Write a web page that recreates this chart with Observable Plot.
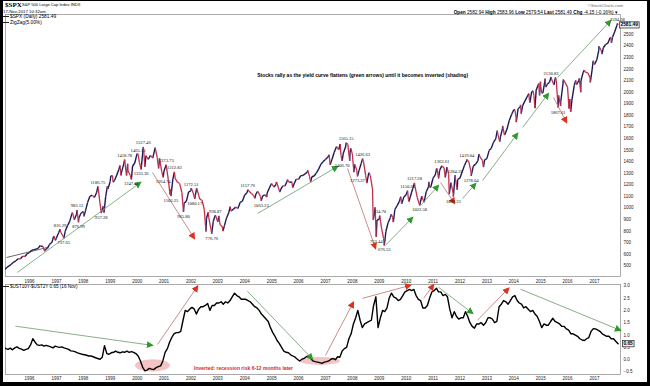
<!DOCTYPE html>
<html><head><meta charset="utf-8">
<script src="https://cdn.jsdelivr.net/npm/d3@7"></script>
<script src="https://cdn.jsdelivr.net/npm/@observablehq/plot@0.6"></script>
<style>
html,body{margin:0;padding:0;background:#000;width:650px;height:386px;overflow:hidden;}
#frame{position:absolute;left:3px;top:1px;width:644px;height:381px;background:#fff;overflow:hidden;font-family:"Liberation Sans",Arial,sans-serif;color:#000;}
.t{position:absolute;white-space:nowrap;line-height:1;z-index:5;}
#top{position:absolute;left:0;top:13px;}
#bot{position:absolute;left:0;top:283px;}
.lg{display:inline-block;width:6px;height:1px;background:#222;vertical-align:middle;margin-right:1px;}
</style></head>
<body>
<div id="frame">
  <div id="top"></div>
  <div id="bot"></div>
  <div class="t" style="left:2px;top:0px;font:bold 7px 'Liberation Serif',serif;">$SPX</div>
  <div class="t" style="left:19px;top:1.5px;font-size:4.1px;">S&amp;P 500 Large Cap Index INDX</div>
  <div class="t" style="left:0px;top:8.5px;font-size:4.3px;">17-Nov-2017 10:32am</div>
  <div class="t" style="right:24px;top:2.5px;font-size:4.2px;color:#666;">&#169;StockCharts.com</div>
  <div class="t" style="right:29px;top:9.5px;font-size:4.7px;"><b>Open</b> 2582.94 <b>High</b> 2583.96 <b>Low</b> 2579.54 <b>Last</b> 2581.49 <b>Chg</b> -4.15 (-0.16%) &#9662;</div>
  <div class="t" style="left:0px;top:14px;font-size:4.8px;"><span class="lg"></span>$SPX (Daily) 2581.49</div>
  <div class="t" style="left:0px;top:19.5px;font-size:4.8px;"><span class="lg"></span>ZigZag(5.00%)</div>
  <div class="t" style="left:0px;top:283.5px;font-size:4.6px;"><span class="lg"></span>$UST10Y-$UST2Y 0.65 (16 Nov)</div>
</div>
<script>
// ---------- data ----------
const years = [1996,1997,1998,1999,2000,2001,2002,2003,2004,2005,2006,2007,2008,2009,2010,2011,2012,2013,2014,2015,2016,2017];
// (the 2600 tick sits under the last-price box in the reference, so it is not shown)
const priceTicks = [500,600,700,800,900,1000,1100,1200,1300,1400,1500,1600,1700,1800,1900,2000,2100,2200,2300,2400,2500];
const spreadTicks = [-0.5,0,0.5,1,1.5,2,2.5,3];

// S&P 500 month-end closes, Jan 1995 .. Oct 2017
const spxMonthClose = [
 470.42,487.39,500.71,514.71,533.40,544.75,562.06,561.88,584.41,581.50,605.37,615.93,
 636.02,640.43,645.50,654.17,669.12,670.63,639.95,651.99,687.31,705.27,757.02,740.74,
 786.16,790.82,757.12,801.34,848.28,885.14,954.29,899.47,947.28,914.62,955.40,970.43,
 980.28,1049.34,1101.75,1111.75,1090.82,1133.84,1120.67,957.28,1017.01,1098.67,1163.63,1229.23,
 1279.64,1238.33,1286.37,1335.18,1301.84,1372.71,1328.72,1320.41,1282.71,1362.93,1388.91,1469.25,
 1394.46,1366.42,1498.58,1452.43,1420.60,1454.60,1430.83,1517.68,1436.51,1429.40,1314.95,1320.28,
 1366.01,1239.94,1160.33,1249.46,1255.82,1224.42,1211.23,1133.58,1040.94,1059.78,1139.45,1148.08,
 1130.20,1106.73,1147.39,1076.92,1067.14,989.82,911.62,916.07,815.28,885.76,936.31,879.82,
 855.70,841.15,848.18,916.92,963.59,974.50,990.31,1008.01,995.97,1050.71,1058.20,1111.92,
 1131.13,1144.94,1126.21,1107.30,1120.68,1140.84,1101.72,1104.24,1114.58,1130.20,1173.82,1211.92,
 1181.27,1203.60,1180.59,1156.85,1191.50,1191.33,1234.18,1220.33,1228.81,1207.01,1249.48,1248.29,
 1280.08,1280.66,1294.83,1310.61,1270.09,1270.20,1276.66,1303.82,1335.85,1377.94,1400.63,1418.30,
 1438.24,1406.82,1420.86,1482.37,1530.62,1503.35,1455.27,1473.99,1526.75,1549.38,1481.14,1468.36,
 1378.55,1330.63,1322.70,1385.59,1400.38,1280.00,1267.38,1282.83,1166.36,968.75,896.24,903.25,
 825.88,735.09,797.87,872.81,919.14,919.32,987.48,1020.62,1057.08,1036.19,1095.63,1115.10,
 1073.87,1104.49,1169.43,1186.69,1089.41,1030.71,1101.60,1049.33,1141.20,1183.26,1180.55,1257.64,
 1286.12,1327.22,1325.83,1363.61,1345.20,1320.64,1292.28,1218.89,1131.42,1253.30,1246.96,1257.60,
 1312.41,1365.68,1408.47,1397.91,1310.33,1362.16,1379.32,1406.58,1440.67,1412.16,1416.18,1426.19,
 1498.11,1514.68,1569.19,1597.57,1630.74,1606.28,1685.73,1632.97,1681.55,1756.54,1805.81,1848.36,
 1782.59,1859.45,1872.34,1883.95,1923.57,1960.23,1930.67,2003.37,1972.29,2018.05,2067.56,2058.90,
 1994.99,2104.50,2067.89,2085.51,2107.39,2063.11,2103.84,1972.18,1920.03,2079.36,2080.41,2043.94,
 1940.24,1932.23,2059.74,2065.30,2096.95,2098.86,2173.60,2170.95,2168.27,2126.15,2198.81,2238.83,
 2278.87,2363.64,2362.72,2384.20,2411.80,2423.41,2470.30,2471.65,2519.36,2575.26
];
const spxLast = ["2017-11-17", 2581.49];

// intra-month swing points (unlabeled)
const spxSwings = [
 ["1996-05-24",678.51],["1996-07-24",626.65],["1996-11-25",757.03],["1996-12-16",720.98],
 ["1997-08-06",960.32],["1998-01-09",927.69],["1998-10-08",959.44],["1998-11-23",1188.21],
 ["1999-01-08",1275.09],["1999-02-09",1223.55],["1999-05-13",1367.56],["1999-05-27",1281.41],
 ["1999-08-10",1281.43],["1999-08-25",1381.79],["2000-04-14",1356.56],["2000-09-01",1520.77],
 ["2000-10-18",1342.13],["2001-03-22",1117.58],["2002-03-19",1170.29],["2002-07-23",797.70],
 ["2002-08-22",962.70],["2003-01-14",931.66],["2003-03-11",800.73],["2003-06-17",1011.66],
 ["2004-05-17",1084.10],["2004-06-23",1144.06],["2004-10-25",1094.81],["2005-03-07",1225.31],
 ["2005-04-20",1137.50],["2005-08-02",1245.04],["2005-10-13",1176.84],["2006-05-05",1325.76],
 ["2006-06-13",1223.69],["2007-02-20",1459.68],["2007-03-05",1374.12],["2007-07-19",1553.08],
 ["2007-11-26",1407.22],["2007-12-10",1515.96],["2008-01-22",1310.50],["2008-07-15",1214.91],
 ["2008-08-11",1305.32],["2008-10-10",899.22],["2008-11-04",1005.75],["2009-06-12",946.21],
 ["2009-07-10",879.13],["2009-10-19",1097.91],["2010-02-08",1056.74],["2010-11-05",1225.85],
 ["2010-11-16",1178.34],["2011-02-18",1343.01],["2011-03-16",1256.88],["2011-06-15",1265.42],
 ["2011-07-07",1353.22],["2011-08-08",1119.46],["2011-11-25",1158.67],["2012-09-14",1465.77],
 ["2012-11-15",1353.33],["2013-05-21",1669.16],["2013-06-24",1573.09],["2013-08-02",1709.67],
 ["2013-08-27",1630.48],["2014-01-15",1848.38],["2014-02-03",1741.89],["2014-04-02",1890.90],
 ["2014-04-11",1815.69],["2014-07-24",1987.98],["2014-08-07",1909.57],["2014-09-18",2011.36],
 ["2014-10-15",1862.49],["2014-12-05",2075.37],["2014-12-16",1972.74],["2014-12-29",2090.57],
 ["2015-01-15",1992.67],["2015-03-02",2117.39],["2015-03-10",2044.16],["2015-07-20",2128.28],
 ["2015-09-28",1881.77],["2015-11-03",2109.79],["2016-01-20",1859.33],["2016-02-11",1829.08],
 ["2016-04-20",2102.40],["2016-06-08",2119.12],["2016-06-27",2000.54],["2016-08-15",2190.15],
 ["2016-11-04",2085.18],["2016-12-13",2271.72],["2017-03-01",2395.96],["2017-04-13",2328.95],
 ["2017-08-08",2474.92],["2017-08-18",2425.55]
];

// ZigZag pivots with labels: date, value, a = above / b = below
const zigzagPivots = [
 ["1997-02-18",816.29,"a"],["1997-04-11",737.65,"b"],["1997-10-07",983.12,"a"],["1997-10-27",876.99,"b"],
 ["1998-07-17",1186.75,"a"],["1998-08-31",957.28,"b"],["1999-07-16",1418.78,"a"],["1999-10-15",1247.41,"b"],
 ["2000-01-14",1465.15,"a"],["2000-02-25",1333.36,"b"],["2000-03-24",1527.46,"a"],["2000-12-20",1264.74,"b"],
 ["2001-01-30",1373.73,"a"],["2001-04-04",1103.25,"b"],["2001-05-21",1312.83,"a"],["2001-09-21",965.80,"b"],
 ["2002-01-04",1172.51,"a"],["2002-02-21",1080.17,"b"],["2002-10-09",776.76,"b"],["2002-11-27",938.87,"a"],
 ["2004-02-11",1157.76,"a"],["2004-08-12",1063.23,"b"],["2007-08-15",1406.70,"b"],["2007-10-09",1565.15,"a"],
 ["2008-03-10",1273.37,"b"],["2008-05-19",1426.63,"a"],["2008-11-20",752.44,"b"],["2009-01-06",934.70,"a"],
 ["2009-03-09",676.53,"b"],["2010-01-19",1150.23,"a"],["2010-04-23",1217.28,"a"],["2010-07-02",1022.58,"b"],
 ["2011-04-29",1363.61,"a"],["2011-10-03",1099.23,"b"],["2011-10-27",1284.59,"a"],["2012-04-02",1419.04,"a"],
 ["2012-06-01",1278.04,"b"],["2015-05-21",2130.82,"a"],["2015-08-25",1867.61,"b"],["2017-11-07",2594.38,"a"]
];

// 10Y - 2Y spread, monthly, Jan 1995 .. Nov 2017
const spreadMonthly = [
 0.50,0.45,0.42,0.47,0.40,0.48,0.52,0.46,0.43,0.38,0.42,0.45,
 0.60,0.85,0.72,0.60,0.58,0.60,0.55,0.58,0.55,0.52,0.48,0.55,
 0.52,0.50,0.52,0.48,0.45,0.42,0.36,0.35,0.32,0.28,0.25,0.22,
 0.20,0.18,0.15,0.15,0.12,0.08,0.05,0.02,0.10,0.57,0.25,0.22,
 0.28,0.30,0.35,0.30,0.28,0.32,0.30,0.35,0.30,0.33,0.30,0.25,
 0.15,-0.05,-0.30,-0.45,-0.42,-0.35,-0.38,-0.40,-0.32,-0.28,-0.25,-0.05,
 0.30,0.45,0.70,0.90,1.05,1.10,1.10,1.15,1.60,2.00,1.95,2.05,
 2.12,2.05,1.85,2.05,2.15,2.15,2.20,2.28,2.00,2.20,2.20,2.30,
 2.30,2.35,2.25,2.35,2.30,2.40,2.55,2.70,2.60,2.55,2.45,2.45,
 2.45,2.40,2.35,2.25,2.15,2.10,2.00,1.85,1.75,1.65,1.55,1.30,
 1.10,0.95,0.78,0.65,0.50,0.35,0.30,0.28,0.20,0.15,0.10,0.02,
 -0.05,0.02,0.05,0.12,0.15,0.05,-0.05,-0.08,-0.10,-0.12,-0.15,-0.10,
 -0.08,-0.05,0.02,0.05,0.00,0.12,0.10,0.35,0.45,0.50,0.85,1.05,
 1.45,1.70,2.00,1.60,1.30,1.45,1.50,1.55,1.60,2.20,2.55,1.30,
 1.70,2.00,1.95,2.10,2.50,2.70,2.55,2.50,2.40,2.45,2.60,2.75,
 2.80,2.85,2.80,2.85,2.60,2.45,2.40,2.10,2.10,2.20,2.50,2.75,
 2.80,2.90,2.75,2.75,2.60,2.65,2.55,2.05,1.70,1.95,1.75,1.65,
 1.70,1.70,1.95,1.75,1.50,1.35,1.28,1.45,1.45,1.50,1.40,1.50,
 1.70,1.70,1.65,1.50,1.55,2.15,2.25,2.40,2.35,2.25,2.40,2.55,
 2.60,2.40,2.30,2.25,2.10,2.15,2.05,1.95,2.00,1.85,1.75,1.55,
 1.30,1.45,1.40,1.40,1.55,1.68,1.55,1.50,1.45,1.35,1.35,1.25,
 1.20,1.05,1.05,1.00,0.95,0.85,0.80,0.78,0.85,0.90,1.15,1.26,
 1.25,1.20,1.15,1.05,1.00,0.95,0.95,0.85,0.85,0.75,0.65
];
const spreadLast = 0.65;

// annotation arrows: start date, start value, end date, end value, colour (g/r)
const priceArrows = [
 ["1995-07-20",444,"2000-02-17",1221,"g"],
 ["2000-07-27",1307,"2002-02-17",737,"r"],
 ["2004-06-24",953,"2007-06-14",1359,"g"],
 ["2007-10-27",1342,"2008-11-10",651,"r"],
 ["2009-03-25",677,"2010-03-28",919,"g"],
 ["2010-07-16",1022,"2011-03-14",1195,"g"],
 ["2011-04-12",1221,"2011-10-19",1040,"r"],
 ["2012-02-06",1083,"2012-07-31",1212,"g"],
 ["2012-11-03",1238,"2014-02-21",1644,"g"],
 ["2014-05-01",1696,"2015-04-16",1989,"g"],
 ["2015-06-24",1955,"2015-12-17",1739,"r"],
 ["2015-08-18",2127,"2017-08-08",2619,"g"]
];
const priceTrendline = ["1995-02-22",573,"1996-09-01",660];
const spreadArrows = [
 ["1995-06-24",1.36,"2000-07-27",0.58,"g"],
 ["2000-10-04",0.62,"2002-04-01",2.98,"r"],
 ["2004-02-06",2.78,"2006-07-09",0.02,"g"],
 ["2007-01-01",0.17,"2008-01-15",2.33,"r"],
 ["2008-05-19",2.49,"2010-03-01",3.02,"r"],
 ["2010-08-25",2.49,"2011-01-08",3.04,"r"],
 ["2011-03-14",2.94,"2012-06-21",1.88,"g"],
 ["2012-08-25",1.60,"2013-10-23",2.90,"r"],
 ["2014-04-01",2.86,"2017-12-19",1.19,"g"]
];
// inversion shading: from, to, top, bottom
const inversionShades = [
 ["1999-12-09","2001-03-28",0.00,-0.50],
 ["2006-01-26","2007-07-23",0.09,-0.23]
];
const titleNote = ["2008-05-19", 2145, "Stocks rally as the yield curve flattens (green arrows) until it becomes inverted (shading)"];
const inversionNote = ["2003-12-16", -0.35, "Inverted: recession risk 6-12 months later"];

// ---------- build ----------
const D = s => new Date(s + "T00:00:00Z");
const xDomain = [D("1995-02-09"), D("2017-12-19")];
const yearTicks = years.map(y => new Date(Date.UTC(y, 0, 1)));

const ptMap = new Map();
spxMonthClose.forEach((v, i) => { const d = new Date(Date.UTC(1995, i + 1, 0)); ptMap.set(+d, v); });
spxSwings.forEach(([d, v]) => ptMap.set(+D(d), v));
zigzagPivots.forEach(([d, v]) => ptMap.set(+D(d), v));
ptMap.set(+D(spxLast[0]), spxLast[1]);
const spx = [...ptMap.entries()].sort((a, b) => a[0] - b[0]).map(([t, v]) => ({date: new Date(t), value: v}));
const segs = [];
for (let i = 1; i < spx.length; i++) segs.push({x1: spx[i-1].date, y1: spx[i-1].value, x2: spx[i].date, y2: spx[i].value, down: spx[i].value < spx[i-1].value});

const spread = spreadMonthly.map((v, i) => ({date: new Date(Date.UTC(1995, i, 15)), value: v}));
spread[spread.length - 1].date = D("2017-11-16");

const arrowRows = a => a.map(([d1, v1, d2, v2, c]) => ({x1: D(d1), y1: v1, x2: D(d2), y2: v2, c}));
const pArrows = arrowRows(priceArrows), sArrows = arrowRows(spreadArrows);
const GREEN_LINE = "#7aa67a", GREEN_HEAD = "#2e9a2e", RED_LINE = "#c48080", RED_HEAD = "#e0301e";

const baseStyle = {fontFamily: "'Liberation Sans', Arial, sans-serif", fontSize: "4.5px", background: "transparent", overflow: "visible", color: "#222"};

const topPlot = Plot.plot({
  width: 644, height: 271, marginLeft: 2, marginRight: 27, marginTop: 0, marginBottom: 9,
  style: baseStyle,
  x: {type: "utc", domain: xDomain, ticks: yearTicks, tickFormat: d3.utcFormat("%Y"), tickSize: 0, tickPadding: 3, label: null},
  y: {domain: [409, 2671], axis: "right", ticks: priceTicks, tickFormat: d => String(d), tickSize: 0, tickPadding: 3, label: null},
  marks: [
    Plot.frame({stroke: "#888", strokeWidth: 0.7}),
    Plot.link([priceTrendline], {x1: d => D(d[0]), y1: d => d[1], x2: d => D(d[2]), y2: d => d[3], stroke: "#444", strokeWidth: 0.8}),
    Plot.link(segs.filter(s => !s.down), {x1: "x1", y1: "y1", x2: "x2", y2: "y2", stroke: "#1e1a58", strokeWidth: 1.4, clip: true}),
    Plot.link(segs.filter(s => s.down), {x1: "x1", y1: "y1", x2: "x2", y2: "y2", stroke: "#c2304c", strokeWidth: 1.3, clip: true}),
    Plot.link(pArrows.filter(d => d.c === "g"), {x1: "x1", y1: "y1", x2: "x2", y2: "y2", stroke: GREEN_LINE, strokeWidth: 0.9, className: "arr-g"}),
    Plot.link(pArrows.filter(d => d.c === "r"), {x1: "x1", y1: "y1", x2: "x2", y2: "y2", stroke: RED_LINE, strokeWidth: 0.9, className: "arr-r"}),
    Plot.text(zigzagPivots.filter(p => p[2] === "a"), {x: d => D(d[0]), y: d => d[1], text: d => d[1].toFixed(2), dy: -4, fontSize: 4.6, fontFamily: "'Liberation Serif', serif", fill: "#111"}),
    Plot.text(zigzagPivots.filter(p => p[2] === "b"), {x: d => D(d[0]), y: d => d[1], text: d => d[1].toFixed(2), dy: 4.5, fontSize: 4.6, fontFamily: "'Liberation Serif', serif", fill: "#111"}),
    Plot.text([titleNote], {x: d => D(d[0]), y: d => d[1], text: d => d[2], fontSize: 5, fontWeight: "bold", fill: "#000"}),
    Plot.text([spxLast], {x: d => D(d[0]), y: d => d[1], text: d => d[1].toFixed(2), dx: 11, fontSize: 4.8, fontWeight: "bold", fill: "#000", className: "lastbox"})
  ]
});

const botPlot = Plot.plot({
  width: 644, height: 98, marginLeft: 2, marginRight: 27, marginTop: 0, marginBottom: 8,
  style: baseStyle,
  x: {type: "utc", domain: xDomain, ticks: yearTicks, tickFormat: d3.utcFormat("%Y"), tickSize: 0, tickPadding: 2, label: null},
  y: {domain: [-0.60, 3.05], axis: "right", ticks: spreadTicks, tickFormat: d3.format(".1f"), tickSize: 0, tickPadding: 3, label: null},
  marks: [
    Plot.frame({stroke: "#888", strokeWidth: 0.7}),
    Plot.rect(inversionShades, {x1: d => D(d[0]), x2: d => D(d[1]), y1: d => d[2], y2: d => d[3], fill: "#f2b9b9", fillOpacity: 0.85, rx: 200}),
    Plot.line(spread, {x: "date", y: "value", stroke: "#000", strokeWidth: 1.4, clip: true}),
    Plot.link(sArrows.filter(d => d.c === "g"), {x1: "x1", y1: "y1", x2: "x2", y2: "y2", stroke: GREEN_LINE, strokeWidth: 0.9, className: "arr-g"}),
    Plot.link(sArrows.filter(d => d.c === "r"), {x1: "x1", y1: "y1", x2: "x2", y2: "y2", stroke: RED_LINE, strokeWidth: 0.9, className: "arr-r"}),
    Plot.text([inversionNote], {x: d => D(d[0]), y: d => d[1], text: d => d[2], fontSize: 5, fontWeight: "bold", fill: "#d0281e"}),
    Plot.text([[spread[spread.length - 1].date, spreadLast]], {x: d => d[0], y: d => d[1], text: d => d[1].toFixed(2), dx: 10, fontSize: 4.8, fontWeight: "bold", fill: "#000", className: "lastbox"})
  ]
});

document.getElementById("top").appendChild(topPlot);
document.getElementById("bot").appendChild(botPlot);

function decorate(svg, key) {
  const s = d3.select(svg);
  const defs = s.insert("defs", ":first-child");
  [["g", GREEN_HEAD], ["r", RED_HEAD]].forEach(([k, c]) => {
    defs.append("marker").attr("id", `mk-${key}-${k}`).attr("viewBox", "0 0 10 10")
      .attr("refX", 8).attr("refY", 5).attr("markerWidth", 7).attr("markerHeight", 7)
      .attr("markerUnits", "userSpaceOnUse").attr("orient", "auto")
      .append("path").attr("d", "M0,0L10,5L0,10Z").attr("fill", c);
    s.selectAll(`.arr-${k}`).each(function () {
      const sel = this.tagName.toLowerCase() === "path" ? d3.select(this) : d3.select(this).selectAll("path, line");
      sel.attr("marker-end", `url(#mk-${key}-${k})`);
    });
  });
  s.selectAll(".lastbox").each(function () {
    const texts = this.tagName.toLowerCase() === "text" ? [this] : [...this.querySelectorAll("text")];
    texts.forEach(t => {
      const bb = t.getBBox();
      const r = document.createElementNS("http://www.w3.org/2000/svg", "rect");
      r.setAttribute("x", bb.x - 1); r.setAttribute("y", bb.y - 0.6);
      r.setAttribute("width", bb.width + 2); r.setAttribute("height", bb.height + 1.2);
      r.setAttribute("fill", "#eee"); r.setAttribute("stroke", "#222"); r.setAttribute("stroke-width", 0.7);
      if (t.getAttribute("transform")) r.setAttribute("transform", t.getAttribute("transform"));
      t.parentNode.insertBefore(r, t);
    });
  });
}
decorate(topPlot, "top");
decorate(botPlot, "bot");
</script>
</body></html>
